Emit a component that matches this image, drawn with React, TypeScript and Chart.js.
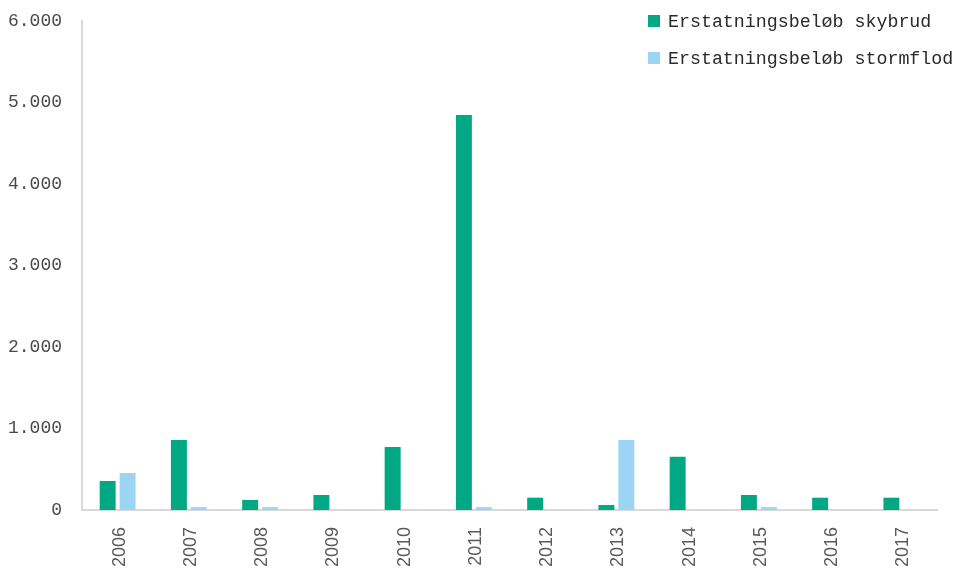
import React, { useEffect, useRef } from "react";
import { Chart, registerables } from "chart.js";

Chart.register(...registerables);

const categories = ["2006", "2007", "2008", "2009", "2010", "2011", "2012", "2013", "2014", "2015", "2016", "2017"];
const skybrud = [356, 859, 123, 184, 773, 4847, 151, 61, 654, 184, 151, 151];
const stormflod = [454, 35, 35, 0, 0, 35, 0, 859, 0, 35, 0, 0];
const seriesLabels = ["Erstatningsbeløb skybrud", "Erstatningsbeløb stormflod"];
const seriesColors = ["#00a984", "#9cd4f4"];

const fmt = (v: number) => {
  const s = Math.round(v).toString();
  return s.replace(/\B(?=(\d{3})+(?!\d))/g, ".");
};

const legendPlugin = {
  id: "customLegend",
  afterDraw(chart: any) {
    const ctx = chart.ctx;
    ctx.save();
    ctx.font = '18.3px "Liberation Mono", "DejaVu Sans Mono", monospace';
    ctx.textBaseline = "middle";
    ctx.textAlign = "left";
    chart.data.datasets.forEach((ds: any, i: number) => {
      const cy = 21 + i * 37;
      ctx.fillStyle = ds.backgroundColor;
      ctx.fillRect(648, cy - 6, 12, 12);
      ctx.fillStyle = "#2a2a2a";
      ctx.fillText(ds.label, 668, cy + 1);
    });
    ctx.restore();
  },
};

export default function App() {
  const ref = useRef<HTMLCanvasElement | null>(null);
  useEffect(() => {
    if (!ref.current) return;
    const chart = new Chart(ref.current, {
      type: "bar",
      data: {
        labels: categories,
        datasets: [
          { label: seriesLabels[0], data: skybrud, backgroundColor: seriesColors[0], categoryPercentage: 0.56, barPercentage: 0.8 },
          { label: seriesLabels[1], data: stormflod, backgroundColor: seriesColors[1], categoryPercentage: 0.56, barPercentage: 0.8 },
        ],
      },
      options: {
        animation: false,
        responsive: true,
        maintainAspectRatio: false,
        layout: { padding: { left: 0, right: 18, top: 21, bottom: 0 } },
        plugins: { legend: { display: false }, tooltip: { enabled: false } },
        scales: {
          x: {
            grid: { display: false, drawTicks: false },
            border: { display: true, color: "#d9d9d9", width: 2 },
            ticks: {
              maxRotation: 90,
              minRotation: 90,
              padding: 17,
              labelOffset: 2,
              color: "#5a5a5a",
              font: { family: '"Liberation Sans", Arial, sans-serif', size: 18 },
            },
            afterFit: (s: any) => { s.height = 58; s.paddingTop = 0; s.paddingBottom = 0; },
          },
          y: {
            min: 0,
            max: 6000,
            grid: { display: false, drawTicks: false },
            border: { display: true, color: "#d9d9d9", width: 2 },
            ticks: {
              stepSize: 1000,
              padding: 20,
              color: "#4a4a4a",
              font: { family: '"Liberation Mono", "DejaVu Sans Mono", monospace', size: 18 },
              callback: (v: any) => fmt(Number(v)),
            },
            afterFit: (s: any) => { s.width = 82; s.paddingTop = 0; s.paddingBottom = 0; },
          },
        },
      },
      plugins: [legendPlugin],
    });
    return () => chart.destroy();
  }, []);
  return (
    <div style={{ position: "fixed", left: 0, top: 0, width: 955, height: 568, background: "#fff" }}>
      <canvas ref={ref} />
    </div>
  );
}
